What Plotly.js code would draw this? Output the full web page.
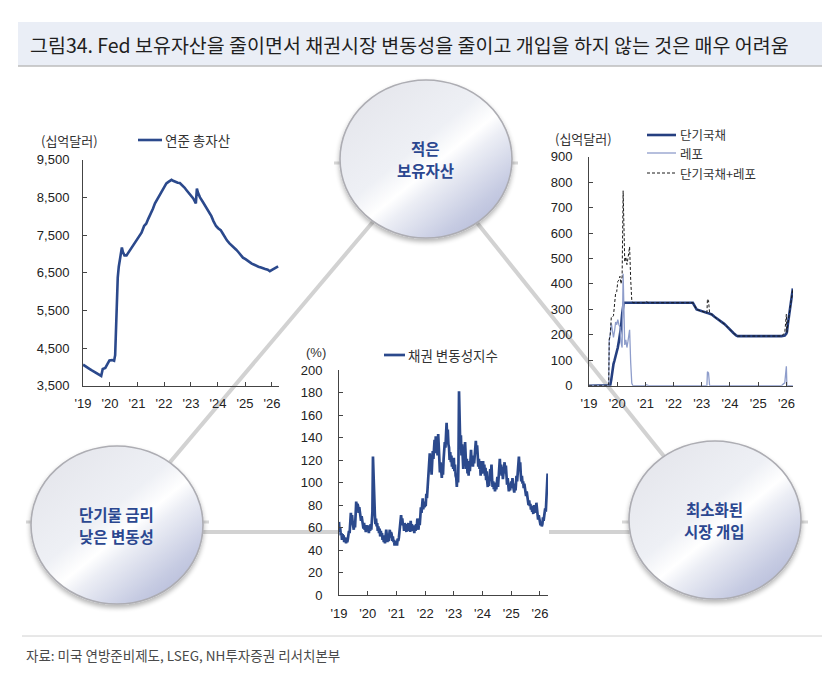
<!DOCTYPE html>
<html>
<head>
<meta charset="utf-8">
<script src="https://cdn.plot.ly/plotly-3.0.1.min.js"></script>
<style>
  html, body { margin: 0; padding: 0; background: #ffffff; }
  #chart { width: 836px; height: 688px; }
</style>
</head>
<body>
<div id="chart"></div>
<script>
// ---------- Fed total assets (USD bn) ----------
const assetDates = [
  '2019-01-02','2019-02-06','2019-03-06','2019-04-03','2019-05-01','2019-06-05','2019-07-03','2019-08-07','2019-09-04',
  '2019-09-25','2019-10-30','2019-11-27','2019-12-25','2020-01-29','2020-02-26','2020-03-11','2020-03-18','2020-03-25',
  '2020-04-01','2020-04-15','2020-04-29','2020-05-27','2020-06-10','2020-06-24','2020-07-15','2020-08-12','2020-09-16',
  '2020-10-14','2020-11-18','2020-12-30','2021-02-03','2021-03-03','2021-04-07','2021-05-05','2021-06-02','2021-07-07',
  '2021-08-04','2021-09-01','2021-10-06','2021-11-03','2021-12-01','2022-01-05','2022-02-02','2022-03-02','2022-04-13',
  '2022-05-04','2022-06-01','2022-07-06','2022-08-03','2022-09-07','2022-10-05','2022-11-02','2022-12-07','2023-01-04',
  '2023-02-01','2023-03-08','2023-03-15','2023-03-22','2023-04-05','2023-05-03','2023-06-07','2023-07-05','2023-08-02',
  '2023-09-06','2023-10-04','2023-11-01','2023-12-06','2024-01-03','2024-02-07','2024-03-06','2024-04-03','2024-05-01',
  '2024-06-05','2024-07-03','2024-08-07','2024-09-04','2024-10-02','2024-11-06','2024-12-04','2025-01-08','2025-02-05',
  '2025-03-05','2025-04-02','2025-05-07','2025-06-04','2025-07-02','2025-08-06','2025-09-03','2025-10-01','2025-11-05',
  '2025-12-03','2026-01-07','2026-02-04','2026-03-04','2026-03-25'
];
const assetValues = [
  4058,4020,3985,3940,3905,3860,3830,3780,3760,
  3945,3970,4070,4170,4180,4160,4310,4670,5250,
  5810,6370,6660,7050,7170,7050,6960,6960,7060,
  7140,7230,7360,7450,7560,7740,7800,7930,8070,
  8200,8340,8460,8560,8680,8760,8870,8910,8965,
  8940,8915,8890,8880,8820,8760,8690,8610,8550,
  8470,8340,8640,8730,8630,8500,8390,8300,8210,
  8120,8000,7870,7740,7680,7630,7540,7440,7360,
  7280,7230,7180,7110,7050,6950,6900,6860,6820,
  6760,6740,6710,6680,6660,6640,6610,6600,6580,
  6540,6580,6620,6640,6670
];

// ---------- Bond volatility index (%), four readings a month: 1st, 8th, 16th, 24th ----------
const moveMonths = [
  '2019-01','2019-02','2019-03','2019-04','2019-05','2019-06','2019-07','2019-08','2019-09','2019-10','2019-11','2019-12',
  '2020-01','2020-02','2020-03','2020-04','2020-05','2020-06','2020-07','2020-08','2020-09','2020-10','2020-11','2020-12',
  '2021-01','2021-02','2021-03','2021-04','2021-05','2021-06','2021-07','2021-08','2021-09','2021-10','2021-11','2021-12',
  '2022-01','2022-02','2022-03','2022-04','2022-05','2022-06','2022-07','2022-08','2022-09','2022-10','2022-11','2022-12',
  '2023-01','2023-02','2023-03','2023-04','2023-05','2023-06','2023-07','2023-08','2023-09','2023-10','2023-11','2023-12',
  '2024-01','2024-02','2024-03','2024-04','2024-05','2024-06','2024-07','2024-08','2024-09','2024-10','2024-11','2024-12',
  '2025-01','2025-02','2025-03','2025-04','2025-05','2025-06','2025-07','2025-08','2025-09','2025-10','2025-11','2025-12',
  '2026-01','2026-02','2026-03','2026-04'
];
const moveDays = ['01','08','16','24'];
const moveValues = [
  [65,56,60,53],[55,49,54,50],[53,47,51,48],[46,51,47,50],[53,57,55,62],[73,65,71,64],
  [62,58,66,60],[72,83,76,81],[79,73,78,71],[72,66,70,64],[63,59,64,58],[60,56,62,57],
  [58,62,55,61],[57,63,58,66],[74,123,98,84],[72,63,68,61],[64,57,61,55],[59,52,57,53],
  [55,49,53,47],[51,46,55,58],[52,47,54,48],[53,58,51,56],[54,48,52,47],[49,44,48,45],
  [47,44,50,48],[51,56,60,64],[71,65,68,62],[63,57,64,59],[61,56,63,58],[64,57,62,56],
  [66,59,63,57],[58,62,55,60],[57,63,59,68],[64,58,66,62],[70,78,73,82],[86,76,83,78],
  [82,79,90,86],[98,106,112,120],[126,110,118,107],[116,128,121,133],[138,126,141,129],[134,124,143,131],
  [122,109,118,111],[104,114,107,121],[126,136,131,149],[153,140,147,134],[131,120,127,118],[124,114,121,112],
  [122,110,116,106],[104,96,108,100],[118,181,150,132],[142,124,134,116],[112,128,118,136],[126,112,121,108],
  [116,106,119,110],[120,129,116,124],[114,123,117,127],[129,137,126,133],[124,114,121,112],[116,106,119,108],
  [112,119,108,116],[106,113,102,110],[101,96,105,97],[104,112,106,116],[104,96,101,94],[98,92,100,94],
  [99,105,96,103],[113,121,110,116],[106,114,103,111],[112,118,108,115],[106,98,104,95],[92,99,93,97],
  [101,95,104,97],[95,91,99,93],[98,106,101,109],[117,123,111,118],[108,101,106,99],[101,95,99,93],
  [94,88,92,86],[86,80,84,79],[81,76,79,74],[77,72,80,73],[79,74,82,76],[73,67,71,66],
  [66,62,65,61],[63,69,66,71],[70,77,74,88],[98,108]
];

// ---------- Fed T-bill holdings and repo (USD bn) ----------
const opsDates = [
  '2019-01-02','2019-09-13','2019-09-20','2019-10-03','2019-10-17','2019-10-31','2019-11-14','2019-11-28','2019-12-12',
  '2019-12-26','2020-01-09','2020-01-23','2020-02-06','2020-02-20','2020-03-05','2020-03-18','2020-03-25','2020-04-08',
  '2020-04-22','2020-05-06','2020-05-20','2020-06-03','2020-06-10','2020-06-24','2020-07-08','2020-07-22','2020-12-31',
  '2021-01-13','2021-02-10','2022-09-07','2022-10-26','2022-12-07','2023-01-25','2023-03-08','2023-03-15','2023-03-29',
  '2023-04-12','2023-05-10','2023-06-14','2023-07-12','2023-08-16','2023-09-13','2023-10-18','2023-11-15','2023-12-13',
  '2024-01-17','2024-02-14','2024-03-20','2024-04-10','2025-10-29','2025-11-26','2025-12-10','2025-12-31','2026-01-07',
  '2026-01-21','2026-02-04','2026-02-18','2026-03-04','2026-03-18','2026-03-25'
];
const tbillValues = [
  0,0,0,2,25,60,85,100,115,
  130,150,175,200,230,280,326,326,326,
  326,326,326,326,326,326,326,326,326,
  326,326,326,300,295,290,286,286,285,
  284,280,271,265,258,252,243,235,225,
  215,207,198,195,195,195,197,205,210,
  245,280,310,340,370,382
];
const repoValues = [
  0,0,180,200,245,210,190,215,250,
  240,260,240,230,170,150,440,330,160,
  180,150,175,210,220,90,10,0,0,
  4,0,0,0,0,0,0,55,50,
  0,0,0,0,0,0,0,0,0,
  0,0,0,0,0,8,10,76,0,
  0,0,0,0,0,0
];
const tbillPlusRepo = tbillValues.map((v, i) => v + repoValues[i]);

// ---------- shared axis labels ----------
const yearTicks = ['2019-01-01','2020-01-01','2021-01-01','2022-01-01','2023-01-01','2024-01-01','2025-01-01','2026-01-01'];
const yearLabels = ["'19","'20","'21","'22","'23","'24","'25","'26"];

// build the volatility series dates from month + day
const moveDates = [], moveSeries = [];
moveMonths.forEach((m, i) => {
  moveValues[i].forEach((v, j) => { moveDates.push(m + '-' + moveDays[j]); moveSeries.push(v); });
});

// ---------- page geometry helpers (pixels -> paper) ----------
const W = 836, H = 688;
const px = p => p / W;
const py = p => 1 - p / H;

const NAVY = '#2b498c';
const KR = '"Noto Sans CJK KR", "Noto Sans", sans-serif';
const NUM = '"Liberation Sans", Arial, sans-serif';
const tickFont = { family: NUM, size: 13, color: '#222' };
const AXIS = '#444';

function xAxis(domain, range, anchor) {
  return {
    domain: domain, range: range, anchor: anchor, type: 'date',
    tickmode: 'array', tickvals: yearTicks, ticktext: yearLabels,
    ticks: 'inside', ticklen: 4, tickcolor: AXIS, tickwidth: 1,
    showline: true, linecolor: AXIS, linewidth: 1,
    showgrid: false, zeroline: false, tickfont: tickFont, ticklabelstandoff: 6,
    fixedrange: true
  };
}
function yAxis(domain, range, dtick, fmt, anchor, standoff) {
  return {
    domain: domain, range: range, anchor: anchor, dtick: dtick, tick0: range[0],
    tickformat: fmt, ticks: 'inside', ticklen: 4, tickcolor: AXIS, tickwidth: 1,
    showline: true, linecolor: AXIS, linewidth: 1,
    showgrid: false, zeroline: false, tickfont: tickFont, ticklabelstandoff: standoff,
    fixedrange: true
  };
}

const traces = [
  { x: assetDates, y: assetValues, xaxis: 'x', yaxis: 'y', type: 'scatter', mode: 'lines',
    line: { color: NAVY, width: 2.6 }, name: '연준 총자산', hoverinfo: 'skip' },
  { x: moveDates, y: moveSeries, xaxis: 'x2', yaxis: 'y2', type: 'scatter', mode: 'lines',
    line: { color: NAVY, width: 2.7 }, name: '채권 변동성지수', hoverinfo: 'skip' },
  { x: opsDates, y: tbillValues, xaxis: 'x3', yaxis: 'y3', type: 'scatter', mode: 'lines',
    line: { color: '#253f80', width: 2.6 }, name: '단기국채', hoverinfo: 'skip' },
  { x: opsDates, y: repoValues, xaxis: 'x3', yaxis: 'y3', type: 'scatter', mode: 'lines',
    line: { color: '#8e9dcb', width: 1.3 }, name: '레포', hoverinfo: 'skip' },
  { x: opsDates, y: tbillPlusRepo, xaxis: 'x3', yaxis: 'y3', type: 'scatter', mode: 'lines',
    line: { color: '#1a1a1a', width: 1, dash: '3px,2px' }, name: '단기국채+레포', hoverinfo: 'skip' }
];

// sphere-like bubble used for the three concept nodes
const bubbleSvg =
  "<svg xmlns='http://www.w3.org/2000/svg' width='200' height='190' viewBox='0 0 200 190'>" +
  "<defs>" +
  "<linearGradient id='g' x1='0.1' y1='0.05' x2='0.9' y2='0.95'>" +
  "<stop offset='0' stop-color='#e4e5eb'/>" +
  "<stop offset='0.42' stop-color='#eef0f5'/>" +
  "<stop offset='0.55' stop-color='#ffffff'/>" +
  "<stop offset='0.63' stop-color='#eceef5'/>" +
  "<stop offset='0.85' stop-color='#c6cbe2'/>" +
  "<stop offset='1' stop-color='#b3b9d8'/>" +
  "</linearGradient>" +
  "<filter id='s' x='-20%' y='-20%' width='140%' height='140%'>" +
  "<feGaussianBlur in='SourceAlpha' stdDeviation='2.5'/><feOffset dx='0' dy='3' result='o'/>" +
  "<feComponentTransfer><feFuncA type='linear' slope='0.3'/></feComponentTransfer>" +
  "<feMerge><feMergeNode/><feMergeNode in='SourceGraphic'/></feMerge></filter>" +
  "</defs>" +
  "<ellipse cx='100' cy='93' rx='86' ry='79' fill='url(#g)' stroke='#adadb3' stroke-width='1.6' filter='url(#s)'/>" +
  "</svg>";
const bubbleSrc = 'data:image/svg+xml;charset=utf-8,' + encodeURIComponent(bubbleSvg);

const nodes = [
  { cx: 426, cy: 159, lines: ['적은', '보유자산'] },
  { cx: 117, cy: 525, lines: ['단기물 금리', '낮은 변동성'] },
  { cx: 715, cy: 520, lines: ['최소화된', '시장 개입'] }
];

const images = nodes.map(n => ({
  source: bubbleSrc, xref: 'paper', yref: 'paper',
  x: px(n.cx - 100), y: py(n.cy - 93), sizex: px(200), sizey: 190 / H,
  xanchor: 'left', yanchor: 'top', sizing: 'stretch', layer: 'above'
}));

const GREY_LINE = '#d2d2d2';
function seg(x0, y0, x1, y1, color, width, dash) {
  return { type: 'line', xref: 'paper', yref: 'paper', x0: px(x0), y0: py(y0), x1: px(x1), y1: py(y1),
           line: { color: color, width: width, dash: dash || 'solid' }, layer: 'below' };
}

const shapes = [
  // title band
  { type: 'rect', xref: 'paper', yref: 'paper', x0: px(18), x1: px(822), y0: py(66), y1: py(22),
    fillcolor: '#eaeef6', line: { width: 0 }, layer: 'below' },
  seg(18, 66, 822, 66, '#bdbdbd', 1.5),
  // footer rule
  seg(22, 636, 822, 636, '#d0d0d0', 1),
  // connectors between the concept nodes
  seg(426, 159, 117, 525, GREY_LINE, 4),
  seg(426, 159, 715, 520, GREY_LINE, 4),
  seg(117, 532, 339, 532, GREY_LINE, 4),
  seg(549, 532, 715, 532, GREY_LINE, 4),
  // small side stubs on the nodes
  seg(334, 163, 518, 163, '#d8d8d8', 3),
  seg(26, 522, 209, 522, '#d8d8d8', 3),
  seg(622, 522, 808, 522, '#d8d8d8', 3),
  // legend swatches
  seg(138, 140, 162, 140, NAVY, 2.6),
  seg(384, 355, 405, 355, NAVY, 2.7),
  seg(647, 135, 676, 135, '#253f80', 2.6),
  seg(647, 153, 676, 153, '#8e9dcb', 1.3),
  seg(647, 173, 676, 173, '#1a1a1a', 1, '3px,2px')
];

function txt(x, y, text, size, color, anchor, family) {
  return { xref: 'paper', yref: 'paper', x: px(x), y: py(y), text: text, showarrow: false,
    xanchor: anchor || 'left', yanchor: 'middle', borderpad: 0,
    font: { family: family || KR, size: size, color: color } };
}

const annotations = [
  txt(29, 44, '그림34. Fed 보유자산을 줄이면서 채권시장 변동성을 줄이고 개입을 하지 않는 것은 매우 어려움', 19.5, '#1f1f1f'),
  txt(25, 655, '자료: 미국 연방준비제도, LSEG, NH투자증권 리서치본부', 13.5, '#4a4a4a'),
  // units
  txt(69, 140, '(십억달러)', 13, '#333', 'center'),
  txt(583, 138, '(십억달러)', 13, '#333', 'center'),
  txt(316, 352, '(%)', 13, '#333', 'center', NUM),
  // legend labels
  txt(164, 140, '연준 총자산', 13.5, '#333'),
  txt(407, 355, '채권 변동성지수', 13.5, '#333'),
  txt(679, 134.5, '단기국채', 12.5, '#333'),
  txt(679, 153.5, '레포', 12.5, '#333'),
  txt(679, 173, '단기국채+레포', 12.5, '#333')
];
nodes.forEach(n => {
  annotations.push(txt(n.cx - 1, n.cy - 11, '<b>' + n.lines[0] + '</b>', 15.5, '#2b4790', 'center'));
  annotations.push(txt(n.cx - 1, n.cy + 11, '<b>' + n.lines[1] + '</b>', 15.5, '#2b4790', 'center'));
});

const layout = {
  width: W, height: H,
  margin: { l: 0, r: 0, t: 0, b: 0, pad: 0 },
  paper_bgcolor: '#ffffff', plot_bgcolor: 'rgba(0,0,0,0)',
  showlegend: false,
  xaxis:  xAxis([px(83), px(279)], ['2019-01-01', '2026-04-06'], 'y'),
  yaxis:  yAxis([py(385.7), py(159.7)], [3500, 9500], 1000, ',d', 'x', 10),
  xaxis2: xAxis([px(339), px(548)], ['2019-01-01', '2026-04-13'], 'y2'),
  yaxis2: yAxis([py(595), py(370)], [0, 200], 20, 'd', 'x2', 13),
  xaxis3: xAxis([px(589), px(793)], ['2019-01-01', '2026-03-27'], 'y3'),
  yaxis3: yAxis([py(385.7), py(156.7)], [0, 900], 100, 'd', 'x3', 13),
  shapes: shapes,
  images: images,
  annotations: annotations
};

Plotly.newPlot('chart', traces, layout, { staticPlot: true, displayModeBar: false });
</script>
</body>
</html>
